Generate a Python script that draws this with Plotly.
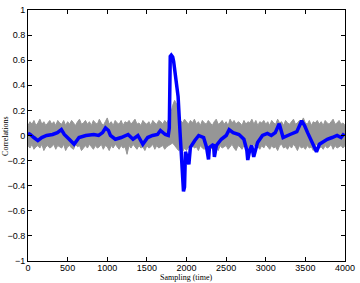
import plotly.graph_objects as go

# ---- data ----
blue_x = [0, 25, 74, 124, 173, 235, 310, 371, 421, 458, 520, 582, 644, 730, 830, 891, 941,
          978, 1015, 1040, 1102, 1176, 1263, 1325, 1387, 1449, 1510, 1572, 1634, 1671, 1733,
          1770, 1783, 1795, 1808, 1826, 1838, 1845, 1863, 1882, 1894, 1919, 1944, 1962, 1975,
          1987, 2006, 2030, 2049, 2080, 2105, 2154, 2216, 2253, 2278, 2290, 2340, 2352, 2377,
          2439, 2501, 2538, 2588, 2662, 2724, 2761, 2773, 2798, 2823, 2848, 2897, 2959, 3021,
          3070, 3120, 3170, 3219, 3306, 3392, 3454, 3491, 3528, 3590, 3640, 3677, 3714, 3776,
          3838, 3900, 3950, 3975, 3990]
blue_y = [0.016, 0.01, -0.016, -0.04, -0.016, 0.0, 0.008, 0.023, 0.047, 0.008, -0.03, -0.07,
          -0.016, 0.0, 0.008, 0.0, 0.023, 0.06, 0.04, 0.0, -0.03, -0.016, 0.008, -0.03, 0.0,
          -0.07, -0.016, 0.0, 0.008, 0.04, 0.008, 0.0, 0.06, 0.63, 0.64, 0.625, 0.59, 0.55,
          0.45, 0.34, 0.31, 0.02, -0.29, -0.445, -0.41, -0.13, -0.17, -0.23, -0.094, -0.07,
          -0.04, 0.0, -0.016, -0.094, -0.19, -0.094, -0.07, -0.17, -0.08, -0.03, 0.0, 0.047,
          0.023, 0.008, -0.03, -0.117, -0.195, -0.117, -0.08, -0.17, -0.055, 0.0, 0.016, 0.0,
          0.023, 0.094, -0.016, 0.008, 0.03, 0.117, 0.078, 0.023, -0.055, -0.13, -0.07, -0.055,
          -0.03, -0.016, 0.0, -0.016, 0.008, 0.016]

band_x = [0, 25, 50, 75, 100, 125, 150, 175, 200, 225,
          250, 275, 300, 325, 350, 375, 400, 425, 450, 475,
          500, 525, 550, 575, 600, 625, 650, 675, 700, 725,
          750, 775, 800, 825, 850, 875, 900, 925, 950, 975,
          1000, 1025, 1050, 1075, 1100, 1125, 1150, 1175, 1200, 1225,
          1250, 1275, 1300, 1325, 1350, 1375, 1400, 1425, 1450, 1475,
          1500, 1525, 1550, 1575, 1600, 1625, 1650, 1675, 1700, 1725,
          1750, 1775, 1800, 1825, 1850, 1875, 1900, 1925, 1950, 1975,
          2000, 2025, 2050, 2075, 2100, 2125, 2150, 2175, 2200, 2225,
          2250, 2275, 2300, 2325, 2350, 2375, 2400, 2425, 2450, 2475,
          2500, 2525, 2550, 2575, 2600, 2625, 2650, 2675, 2700, 2725,
          2750, 2775, 2800, 2825, 2850, 2875, 2900, 2925, 2950, 2975,
          3000, 3025, 3050, 3075, 3100, 3125, 3150, 3175, 3200, 3225,
          3250, 3275, 3300, 3325, 3350, 3375, 3400, 3425, 3450, 3475,
          3500, 3525, 3550, 3575, 3600, 3625, 3650, 3675, 3700, 3725,
          3750, 3775, 3800, 3825, 3850, 3875, 3900, 3925, 3950, 3975,
          4000]
band_hi = [0.08, 0.11, 0.09, 0.12, 0.08, 0.10, 0.13, 0.09, 0.11, 0.08,
           0.10, 0.12, 0.09, 0.11, 0.08, 0.12, 0.10, 0.09, 0.12, 0.08,
           0.11, 0.09, 0.12, 0.10, 0.08, 0.11, 0.13, 0.09, 0.10, 0.12,
           0.09, 0.11, 0.08, 0.12, 0.10, 0.09, 0.13, 0.10, 0.08, 0.11,
           0.14, 0.09, 0.11, 0.08, 0.12, 0.10, 0.09, 0.12, 0.08, 0.11,
           0.10, 0.12, 0.09, 0.11, 0.13, 0.09, 0.10, 0.08, 0.12, 0.10,
           0.09, 0.11, 0.08, 0.12, 0.10, 0.09, 0.12, 0.11, 0.09, 0.12,
           0.10, 0.13, 0.17, 0.24, 0.28, 0.25, 0.18, 0.12, 0.10, 0.13,
           0.11, 0.09, 0.12, 0.10, 0.13, 0.09, 0.11, 0.08, 0.12, 0.10,
           0.09, 0.12, 0.10, 0.08, 0.11, 0.13, 0.09, 0.10, 0.12, 0.09,
           0.11, 0.08, 0.13, 0.10, 0.12, 0.09, 0.11, 0.10, 0.08, 0.12,
           0.09, 0.11, 0.10, 0.13, 0.09, 0.12, 0.08, 0.11, 0.10, 0.12,
           0.09, 0.11, 0.08, 0.12, 0.10, 0.09, 0.13, 0.10, 0.11, 0.08,
           0.12, 0.10, 0.09, 0.11, 0.13, 0.09, 0.10, 0.12, 0.11, 0.14,
           0.10, 0.09, 0.12, 0.08, 0.11, 0.10, 0.12, 0.09, 0.11, 0.08,
           0.12, 0.10, 0.09, 0.11, 0.13, 0.09, 0.10, 0.12, 0.09, 0.10,
           0.08]
band_lo = [-0.08, -0.10, -0.07, -0.11, -0.09, -0.08, -0.10, -0.07, -0.12, -0.09,
           -0.08, -0.10, -0.09, -0.07, -0.11, -0.08, -0.09, -0.10, -0.07, -0.12,
           -0.09, -0.08, -0.10, -0.11, -0.07, -0.09, -0.08, -0.12, -0.10, -0.08,
           -0.10, -0.07, -0.09, -0.11, -0.08, -0.10, -0.09, -0.07, -0.11, -0.08,
           -0.09, -0.12, -0.08, -0.10, -0.07, -0.09, -0.11, -0.08, -0.10, -0.09,
           -0.15, -0.08, -0.10, -0.07, -0.09, -0.11, -0.08, -0.10, -0.09, -0.12,
           -0.08, -0.10, -0.09, -0.07, -0.11, -0.08, -0.10, -0.09, -0.08, -0.11,
           -0.09, -0.08, -0.07, -0.06, -0.08, -0.10, -0.12, -0.11, -0.13, -0.10,
           -0.12, -0.09, -0.11, -0.08, -0.10, -0.09, -0.12, -0.08, -0.10, -0.11,
           -0.09, -0.08, -0.11, -0.10, -0.07, -0.09, -0.12, -0.08, -0.10, -0.09,
           -0.08, -0.11, -0.09, -0.07, -0.10, -0.12, -0.08, -0.09, -0.11, -0.08,
           -0.10, -0.09, -0.12, -0.08, -0.07, -0.10, -0.09, -0.11, -0.08, -0.10,
           -0.07, -0.09, -0.11, -0.08, -0.10, -0.09, -0.12, -0.08, -0.07, -0.10,
           -0.09, -0.11, -0.08, -0.10, -0.07, -0.09, -0.12, -0.08, -0.10, -0.09,
           -0.11, -0.08, -0.10, -0.09, -0.12, -0.08, -0.07, -0.10, -0.09, -0.11,
           -0.08, -0.10, -0.09, -0.07, -0.11, -0.08, -0.10, -0.09, -0.08, -0.10,
           -0.08]

x_ticks = [0, 500, 1000, 1500, 2000, 2500, 3000, 3500, 4000]
x_labels = ["0", "500", "1000", "1500", "2000", "2500", "3000", "3500", "4000"]
y_ticks = [-1, -0.8, -0.6, -0.4, -0.2, 0, 0.2, 0.4, 0.6, 0.8, 1]
y_labels = ["\u22121", "\u22120.8", "\u22120.6", "\u22120.4", "\u22120.2", "0",
            "0.2", "0.4", "0.6", "0.8", "1"]

gray = "rgb(150,150,150)"
fig = go.Figure()
fig.add_trace(go.Scatter(x=band_x, y=band_lo, mode="lines",
                         line=dict(color=gray, width=1), showlegend=False, hoverinfo="skip"))
fig.add_trace(go.Scatter(x=band_x, y=band_hi, mode="lines", fill="tonexty", fillcolor=gray,
                         line=dict(color=gray, width=1), showlegend=False, hoverinfo="skip"))
fig.add_trace(go.Scatter(x=blue_x, y=blue_y, mode="lines",
                         line=dict(color="rgb(0,0,255)", width=3.5), showlegend=False))

axis_common = dict(showgrid=False, zeroline=False, showline=True, linecolor="black",
                   linewidth=1, mirror="ticks", ticks="inside", ticklen=4,
                   tickcolor="black", tickwidth=1, ticklabeloverflow="allow",
                   tickfont=dict(family="Liberation Sans, Arial", size=9, color="black"))

fig.update_layout(
    width=360, height=283,
    margin=dict(l=28, r=9, t=5, b=22),
    paper_bgcolor="white", plot_bgcolor="white",
    xaxis=dict(range=[0, 4000], tickmode="array", tickvals=x_ticks, ticktext=x_labels,
               ticklabelstandoff=-2, **axis_common),
    yaxis=dict(range=[-1, 1], tickmode="array", tickvals=y_ticks, ticktext=y_labels,
               **axis_common),
    annotations=[
        dict(text="Sampling (time)", x=0.5, xref="paper", y=-(277.5 - 261) / 256, yref="paper",
             yanchor="middle", showarrow=False, borderpad=0,
             font=dict(family="Liberation Serif, serif", size=8, color="black")),
        dict(text="Correlations", textangle=-90, x=-(28 - 5) / 323, xref="paper",
             xanchor="center", y=0.5, yref="paper", yanchor="middle", showarrow=False,
             font=dict(family="Liberation Serif, serif", size=8, color="black")),
    ],
)

fig.write_html("out.html")
